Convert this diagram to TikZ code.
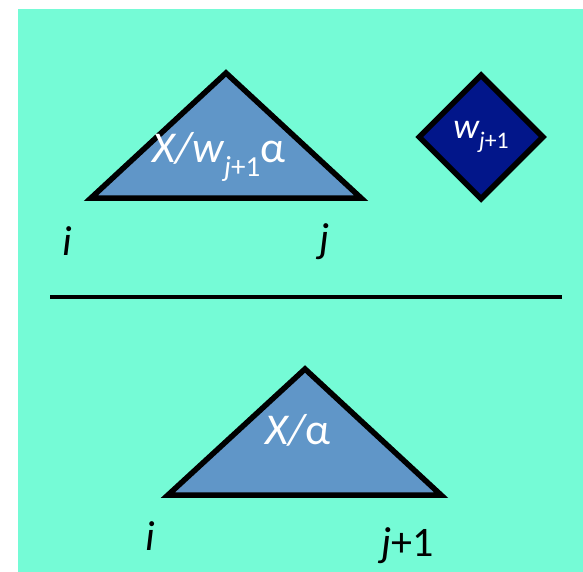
\documentclass[tikz,border=0pt]{standalone}
\usepackage{fontspec}
\setmainfont{Carlito}
\usetikzlibrary{shapes.geometric}
\definecolor{bgc}{RGB}{117,251,214}
\definecolor{tric}{RGB}{96,150,200}
\definecolor{diac}{RGB}{2,22,138}
\tikzset{
  tri/.style={fill=tric,draw=black,line width=5.5pt,line join=miter},
  lbl/.style={inner sep=0pt,font=\fontsize{42}{44}\selectfont\itshape},
  intext/.style={inner sep=0pt,text=white,font=\fontsize{44}{46}\selectfont},
  dia/.style={diamond,fill=diac,draw=black,line width=5.5pt,minimum width=126pt,minimum height=126pt,inner sep=0pt,text=white,font=\fontsize{36}{38}\selectfont}
}
\newcommand{\mysub}[1]{\raisebox{-0.3em}{\fontsize{0.66em}{1em}\selectfont #1}}
\begin{document}
\begin{tikzpicture}[x=1pt,y=-1pt]
\useasboundingbox (0,0) rectangle (583,572);
\fill[bgc] (18,9) rectangle (583,572);
% top triangle
\draw[tri] (226,73) -- (361,198) -- (91,198) -- cycle;
\node[intext] (t1) at (219,157) {\itshape X/w\mysub{j\upshape+1}\upshape α};
% diamond
\node[dia] (d) at (481,137) {\itshape w\mysub{j\upshape+1}};
% labels
\node[lbl] (i1) at (67,241) {i};
\node[lbl] (j1) at (325,242) {j};
% separator
\coordinate (l1) at (50,297);
\coordinate (l2) at (562,297);
\draw[line width=3.5pt] (l1) -- (l2);
% bottom triangle
\draw[tri] (305,369) -- (441,495) -- (168,495) -- cycle;
\node[intext] (t2) at (298,430) {\itshape X/\upshape α};
\node[lbl] (i2) at (150,536) {i};
\node[lbl] (j2) at (408,546) {j\upshape+1};
\end{tikzpicture}
\end{document}
